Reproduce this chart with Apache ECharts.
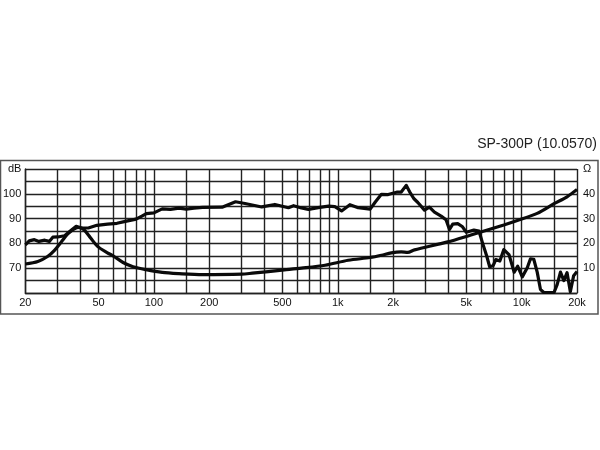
<!DOCTYPE html>
<html>
<head>
<meta charset="utf-8">
<script src="https://cdn.jsdelivr.net/npm/echarts@6/dist/echarts.min.js"></script>
<style>html,body{margin:0;padding:0;background:#fff}#c{width:600px;height:450px}</style>
</head>
<body>
<div id="c"></div>
<script>
// ---- data ----
const titleText = 'SP-300P (10.0570)';
const gridFreqs = [20,30,40,50,60,70,80,90,100,150,200,300,400,500,600,700,800,900,1000,1500,2000,3000,4000,5000,6000,7000,8000,9000,10000,15000,20000];
const freqLabels = [20,50,100,200,500,1000,2000,5000,10000,20000];
const dbTickValues = [70,80,90,100,110];
const dbTickLabels = ['70','80','90','100','dB'];
const ohmTickValues = [10,20,30,40,50];
const ohmTickLabels = ['10','20','30','40','Ω'];

const splFreq = [20,21,22.4,23.7,25.5,27,28.2,30,32.7,35.5,37.8,40,44,49,56,63,71,80,86,91,100,111,123,137,150,165,184,235,278,313,386,455,539,575,634,693,783,891,964,1049,1164,1292,1500,1600,1727,1880,2110,2214,2356,2460,2590,2726,2962,3150,3356,3648,3880,4050,4220,4490,4770,5000,5500,5860,6125,6450,6700,7000,7230,7610,8000,8530,9110,9510,10080,10730,11170,11640,12150,12650,13190,15000,15600,16260,16960,17660,18400,19180,20000];
const splDb = [79.4,81,81.5,80.8,81.3,80.8,82.5,82.6,83.1,85.3,86.9,86.2,86.2,87.3,87.8,88.1,89.0,89.8,91.0,92.0,92.3,93.9,93.7,94.2,93.8,94.2,94.5,94.6,96.8,96.1,94.7,95.7,94.4,95.2,94.3,93.7,94.4,95.0,94.8,93.1,95.6,94.4,93.8,96.7,99.8,99.7,100.7,100.7,103.4,100.8,98.1,96.5,93.4,94.6,92.6,91.0,89.5,85.6,87.8,88.0,86.7,84.5,85.4,85.0,80.2,75,70.6,71,73.5,72.9,77.5,75.5,68.4,70.8,66.5,70.2,73.8,73.6,68.4,61.5,60.2,60.2,63.4,68.4,65,68.2,60.5,67,68.7];

const impFreq = [20,23.4,26.4,28.8,31.3,34,36.9,39.3,41.7,45.3,49.4,55.9,60,68,77,90.6,111,137,184,300,343,512,634,853,1140,1500,1727,1955,2214,2400,2614,3963,5300,6000,8000,9470,12150,15000,17660,20000];
const impOhm = [11.7,12.7,14.7,17.2,20.5,23.8,25.9,26.5,25.5,22.2,18.8,16.2,15,12.3,10.6,9.4,8.3,7.8,7.4,7.6,8.0,9.3,10.0,11.2,13.2,14.3,15.2,16.2,16.6,16.4,17.4,20.6,23.4,24.6,27.4,29.2,32.1,36.0,38.8,41.7];

// ---- chart ----
const chart = echarts.init(document.getElementById('c'), null, {renderer: 'canvas'});
const font = 'Liberation Sans, Arial, sans-serif';
const ink = '#0a0a0a';
const gridInk = '#222';
const fmtFreq = v => v >= 1000 ? (v / 1000) + 'k' : String(v);
const pick = (vals, labs) => v => { const i = vals.indexOf(Math.round(v)); return i >= 0 ? labs[i] : ''; };

chart.setOption({
  animation: false,
  backgroundColor: '#fff',
  title: {
    text: titleText, right: 3, top: 137, padding: 0,
    textStyle: {fontFamily: font, fontSize: 14, fontWeight: 'normal', color: '#222'}
  },
  graphic: [{
    type: 'rect', silent: true,
    shape: {x: 0.5, y: 160.5, width: 597.5, height: 153.5},
    style: {fill: 'none', stroke: '#555', lineWidth: 1.5}
  }],
  grid: {left: 22, right: 23, top: 169, height: 124},
  xAxis: {
    type: 'log', logBase: 10, min: 20, max: 20000,
    axisLine: {show: true, lineStyle: {color: gridInk, width: 1.4}},
    axisTick: {show: false, customValues: gridFreqs},
    splitLine: {show: true, lineStyle: {color: gridInk, width: 1.4}},
    minorSplitLine: {show: false},
    axisLabel: {customValues: freqLabels, formatter: fmtFreq, fontFamily: font, fontSize: 11, color: '#111', margin: 4}
  },
  yAxis: [{
    type: 'value', min: 60, max: 110, interval: 5,
    axisLine: {show: true, lineStyle: {color: gridInk, width: 1.4}},
    axisTick: {show: false},
    splitLine: {show: true, lineStyle: {color: gridInk, width: 1.4}},
    axisLabel: {customValues: dbTickValues, formatter: pick(dbTickValues, dbTickLabels), fontFamily: font, fontSize: 11, color: '#111', margin: 4}
  }, {
    type: 'value', min: 0, max: 50, interval: 5, position: 'right',
    axisLine: {show: false}, axisTick: {show: false}, splitLine: {show: false},
    axisLabel: {customValues: ohmTickValues, formatter: pick(ohmTickValues, ohmTickLabels), fontFamily: font, fontSize: 11, color: '#111', margin: 6}
  }],
  series: [{
    type: 'line', name: 'SPL', yAxisIndex: 0, symbol: 'none',
    data: splFreq.map((f, i) => [f, splDb[i]]),
    lineStyle: {color: ink, width: 3.2, join: 'round'}
  }, {
    type: 'line', name: 'Impedance', yAxisIndex: 1, symbol: 'none', smooth: 0.3,
    data: impFreq.map((f, i) => [f, impOhm[i]]),
    lineStyle: {color: ink, width: 3.2}
  }]
});
</script>
</body>
</html>
